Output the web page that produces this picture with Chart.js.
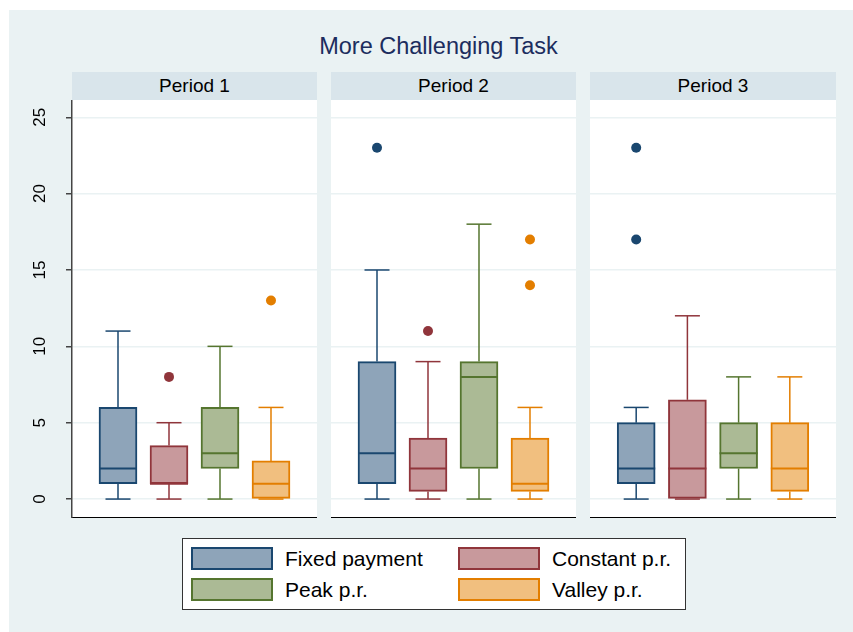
<!DOCTYPE html>
<html>
<head>
<meta charset="utf-8">
<script src="https://cdn.jsdelivr.net/npm/chart.js@4.4.1/dist/chart.umd.min.js"></script>
<style>
  body { margin: 0; width: 853px; height: 632px; background: #fff; position: relative; overflow: hidden;
         font-family: "Liberation Sans", Arial, sans-serif; }
  #bg { position: absolute; left: 9px; top: 10px; width: 844px; height: 622px; background: #eaf2f3; }
  #title { position: absolute; left: 0; width: 877px; top: 33px; line-height: 26px; text-align: center;
           font-size: 23.5px; color: #1c2d5e; }
  .hdr { position: absolute; top: 72px; height: 28px; line-height: 28px; background: #d9e5eb;
         font-size: 19px; text-align: center; color: #000; }
  .panel { position: absolute; top: 100px; height: 418px; }
  #legend { position: absolute; left: 182px; top: 538px; width: 502px; height: 70px; background: #fff;
            border: 1px solid #333; }
  .sw { position: absolute; width: 82px; height: 23px; box-sizing: border-box; border: 2px solid; }
  .lab { position: absolute; font-size: 21px; line-height: 22px; color: #000; white-space: nowrap; }
</style>
</head>
<body>
<div id="bg"></div>
<div id="title">More Challenging Task</div>
<div class="hdr" style="left:72px;width:245px">Period 1</div>
<div class="hdr" style="left:331px;width:245px">Period 2</div>
<div class="hdr" style="left:590px;width:246px">Period 3</div>
<canvas id="p0" class="panel" style="left:0px" width="317" height="418"></canvas>
<canvas id="p1" class="panel" style="left:331px" width="245" height="418"></canvas>
<canvas id="p2" class="panel" style="left:590px" width="246" height="418"></canvas>
<div id="legend"></div>
<script>
// treatments, in plotting order
const seriesNames = ['Fixed payment', 'Constant p.r.', 'Peak p.r.', 'Valley p.r.'];
const periodLabels = ['Period 1', 'Period 2', 'Period 3'];
const yTicks = [0, 5, 10, 15, 20, 25];

// box statistics, [period][treatment]
const whiskerLow  = [[0, 0, 0, 0], [0, 0, 0, 0], [0, 0, 0, 0]];
const q1          = [[1, 1, 2, 0], [1, 0.5, 2, 0.5], [1, 0, 2, 0.5]];
const median      = [[2, 1, 3, 1], [3, 2, 8, 1], [2, 2, 3, 2]];
const q3          = [[6, 3.5, 6, 2.5], [9, 4, 9, 4], [5, 6.5, 5, 5]];
const whiskerHigh = [[11, 5, 10, 6], [15, 9, 18, 6], [6, 12, 8, 8]];
const outliers    = [[[], [8], [], [13]], [[23], [11], [], [17, 14]], [[23, 17], [], [], []]];

const lineColors = ['#1a476f', '#90353b', '#55752f', '#e37e00'];
const fillColors = ['#8ea4b9', '#c8999c', '#abba95', '#f1bf7f'];

const FONT = '"Liberation Sans", Arial, sans-serif';

// whiskers, caps and median lines, placed with the chart's own scales
const boxParts = {
  id: 'boxParts',
  beforeDraw(chart) {
    const a = chart.chartArea, c = chart.ctx;
    c.save();
    c.fillStyle = '#fff';
    c.fillRect(a.left, a.top, a.right - a.left, a.bottom - a.top);
    c.restore();
  },
  beforeDatasetsDraw(chart, args, opts) {
    const p = opts.period, xs = chart.scales.x, ys = chart.scales.y, c = chart.ctx;
    c.save();
    c.lineWidth = 1.5;
    seriesNames.forEach((n, i) => {
      const x = xs.getPixelForValue(i);
      c.strokeStyle = lineColors[i];
      const seg = (a, b) => { c.beginPath(); c.moveTo(x, ys.getPixelForValue(a)); c.lineTo(x, ys.getPixelForValue(b)); c.stroke(); };
      const cap = v => { const y = ys.getPixelForValue(v); c.beginPath(); c.moveTo(x - 12.5, y); c.lineTo(x + 12.5, y); c.stroke(); };
      seg(q3[p][i], whiskerHigh[p][i]);
      seg(whiskerLow[p][i], q1[p][i]);
      cap(whiskerHigh[p][i]);
      cap(whiskerLow[p][i]);
    });
    c.restore();
  },
  afterDatasetsDraw(chart, args, opts) {
    const p = opts.period, xs = chart.scales.x, ys = chart.scales.y, c = chart.ctx;
    c.save();
    c.lineWidth = 2;
    seriesNames.forEach((n, i) => {
      const x = xs.getPixelForValue(i), y = ys.getPixelForValue(median[p][i]);
      c.strokeStyle = lineColors[i];
      c.beginPath(); c.moveTo(x - 19, y); c.lineTo(x + 19, y); c.stroke();
    });
    c.restore();
  }
};

periodLabels.forEach((label, p) => {
  const first = p === 0;
  const pts = [], ptColors = [];
  outliers[p].forEach((vals, i) => vals.forEach(v => { pts.push({ x: i, y: v }); ptColors.push(lineColors[i]); }));

  new Chart(document.getElementById('p' + p), {
    type: 'bar',
    data: {
      datasets: [{
        label: label,
        data: seriesNames.map((n, i) => ({ x: i, y: [q1[p][i], q3[p][i]] })),
        backgroundColor: fillColors,
        borderColor: lineColors,
        borderWidth: 2,
        borderSkipped: false,
        barThickness: 38
      }, {
        type: 'scatter',
        data: pts,
        backgroundColor: ptColors,
        pointRadius: 5,
        pointBorderWidth: 0
      }]
    },
    options: {
      responsive: false,
      animation: false,
      layout: { padding: 0, autoPadding: false },
      plugins: { legend: { display: false }, tooltip: { enabled: false }, boxParts: { period: p } },
      scales: {
        x: {
          type: 'linear', min: -0.902, max: 3.902, offset: false,
          grid: { display: false, drawTicks: false },
          ticks: { display: false },
          border: { display: true, color: '#000', width: 1.5 },
          afterFit(s) { s.height = 0; s.paddingLeft = 0; s.paddingRight = 0; }
        },
        y: {
          min: -1.24, max: 26.13,
          afterBuildTicks(s) { s.ticks = yTicks.map(v => ({ value: v })); },
          afterFit(s) { s.width = first ? 72 : 0; s.paddingTop = 0; s.paddingBottom = 0; },
          grid: { color: '#eaf2f3', lineWidth: 1.5, drawTicks: first, tickLength: 6, tickColor: '#444', tickWidth: 1.5 },
          border: { display: first, color: '#444', width: 1.5 },
          ticks: {
            display: first, autoSkip: false, minRotation: 90, maxRotation: 90, crossAlign: 'center',
            padding: 16, color: '#000', font: { family: FONT, size: 17 }
          }
        }
      }
    },
    plugins: [boxParts]
  });
});

// legend, two columns
const legend = document.getElementById('legend');
const cols = [8, 275], rows = [8, 39];
seriesNames.forEach((n, i) => {
  const sx = cols[i % 2], sy = rows[Math.floor(i / 2)];
  const sw = document.createElement('div');
  sw.className = 'sw';
  sw.style.left = sx + 'px'; sw.style.top = sy + 'px';
  sw.style.background = fillColors[i]; sw.style.borderColor = lineColors[i];
  legend.appendChild(sw);
  const lab = document.createElement('div');
  lab.className = 'lab';
  lab.style.left = (sx + 94) + 'px'; lab.style.top = (sy + 1) + 'px';
  lab.textContent = n;
  legend.appendChild(lab);
});
</script>
</body>
</html>
